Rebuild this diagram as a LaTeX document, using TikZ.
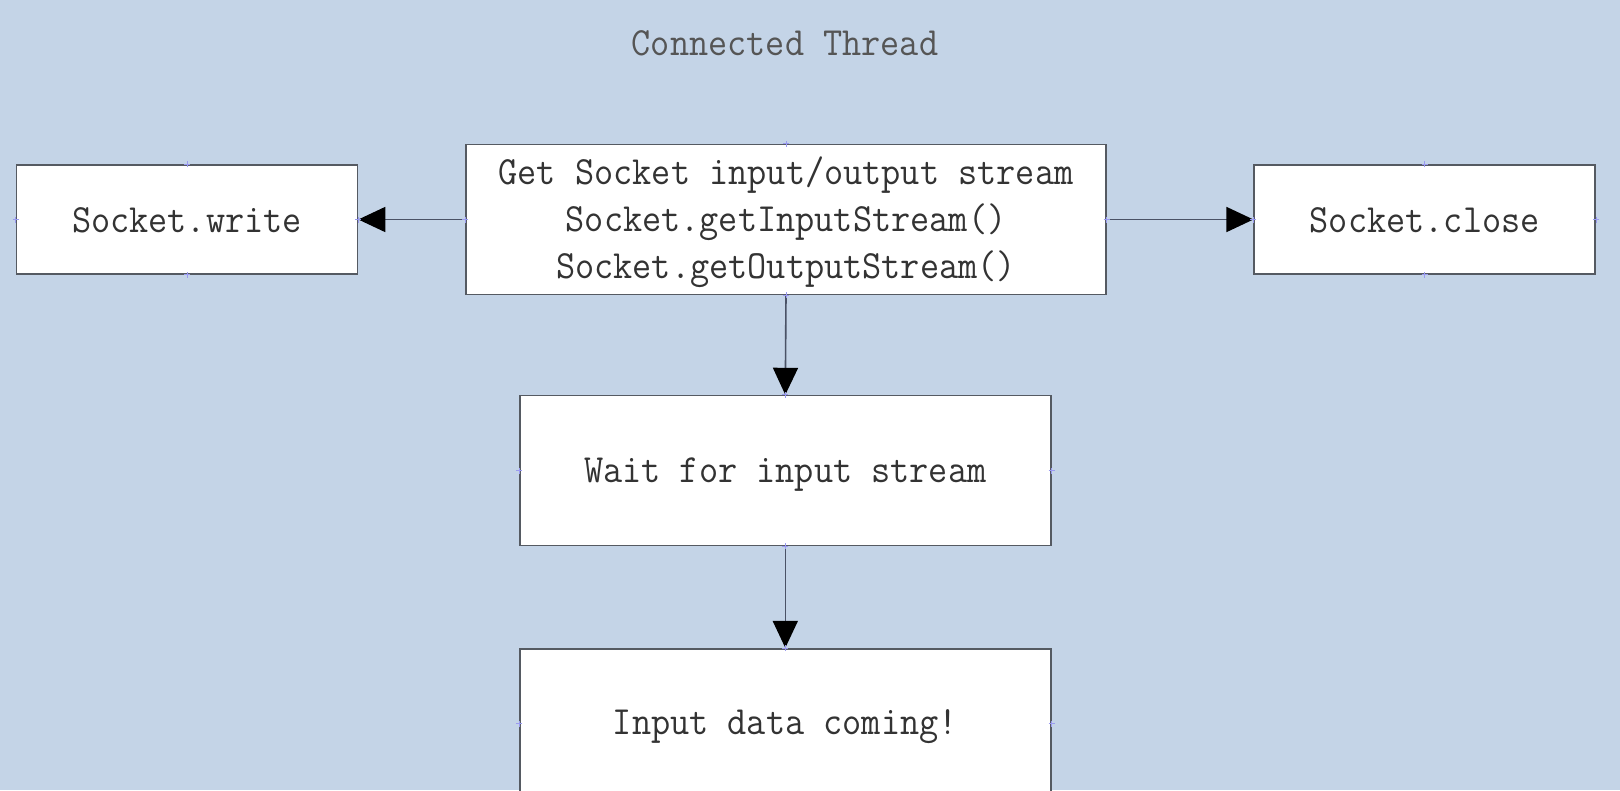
\documentclass[tikz,border=0pt]{standalone}
\usepackage{fontspec}
\setmonofont[FakeStretch=0.93]{Latin Modern Mono}
\usetikzlibrary{arrows.meta}
\definecolor{bg}{HTML}{C4D4E7}
\definecolor{boxline}{HTML}{555A62}
\definecolor{conline}{HTML}{4A5266}
\definecolor{txt}{HTML}{333333}
\definecolor{titletxt}{HTML}{555555}
\definecolor{handle}{HTML}{9A9AF0}
\begin{document}
\begin{tikzpicture}[x=1pt,y=-1pt,
  box/.style={draw=boxline, line width=1.6pt, fill=white, inner sep=0pt},
  boxtext/.style={inner sep=0pt, align=center, text=txt, font=\fontsize{40}{47}\selectfont\ttfamily},
  conn/.style={draw=conline, line width=1.6pt, -{Triangle[length=27pt,width=25pt,black]}},
  handlemark/.style={draw=handle, line width=0.8pt}
]
\fill[bg] (0,0) rectangle (1620,790);
\useasboundingbox (0,0) rectangle (1620,790);

\node[text=titletxt, font=\fontsize{40}{47}\selectfont\ttfamily] (title) at (785,43) {Connected Thread};

\node[box, minimum width=639.5pt, minimum height=150pt] (top) at (786,219.5) {};
\node[box, minimum width=341pt, minimum height=108.5pt] (write) at (187,219.5) {};
\node[box, minimum width=341pt, minimum height=108.5pt] (close) at (1424.7,219.5) {};
\node[box, minimum width=531pt, minimum height=150pt] (wait) at (785.3,470.6) {};
\node[box, minimum width=531pt, minimum height=150pt] (data) at (785.3,723.7) {};

\node[boxtext] (topT) at ([yshift=-3pt]top.center)
  {Get Socket input/output stream\\Socket.getInputStream()\\Socket.getOutputStream()};
\node[boxtext] (writeT) at ([yshift=-1pt]write.center) {Socket.write};
\node[boxtext] (closeT) at ([yshift=-1pt]close.center) {Socket.close};
\node[boxtext] (waitT) at ([yshift=-3.5pt]wait.center) {Wait for input stream};
\node[boxtext] (dataT) at ([yshift=-2.5pt]data.center) {Input data coming!};

\draw[conn] (top.west) -- (write.east);
\draw[conn] (top.east) -- (close.west);
\draw[conn] (top.south) -- (wait.north);
\draw[conn] (wait.south) -- (data.north);

\foreach \n in {top,write,close,wait,data}{
  \foreach \a in {north,south,east,west}{
    \draw[handlemark] ([xshift=-3pt]\n.\a) -- ([xshift=3pt]\n.\a);
    \draw[handlemark] ([yshift=-3pt]\n.\a) -- ([yshift=3pt]\n.\a);
  }
}
\end{tikzpicture}
\end{document}
